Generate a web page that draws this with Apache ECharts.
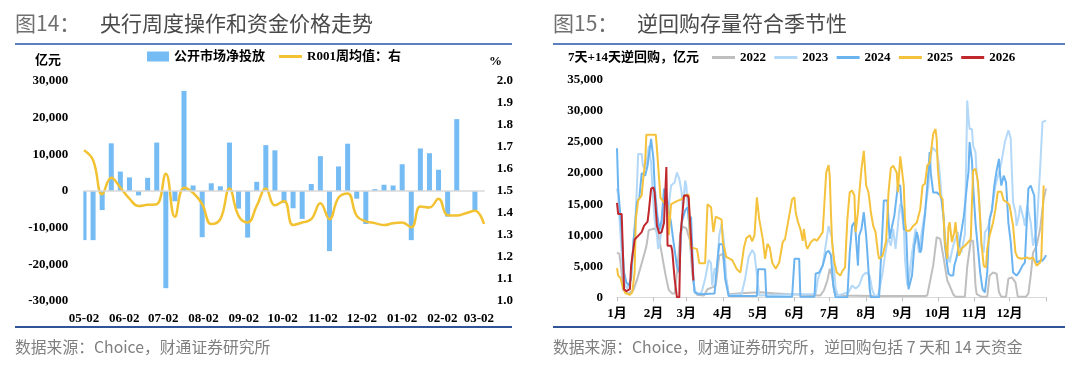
<!DOCTYPE html>
<html><head><meta charset="utf-8">
<script src="https://cdn.jsdelivr.net/npm/echarts@6/dist/echarts.min.js"></script>
<style>html,body{margin:0;padding:0;background:#fff}#c{width:1080px;height:380px}</style>
</head><body><div id="c"></div>
<script>
// ---------- Left chart data ----------
const weekDates = ['2025-05-02','2025-05-09','2025-05-16','2025-05-23','2025-05-30','2025-06-06','2025-06-13','2025-06-20','2025-06-27',
 '2025-07-04','2025-07-11','2025-07-18','2025-07-25','2025-08-01','2025-08-08','2025-08-15','2025-08-22','2025-08-29',
 '2025-09-05','2025-09-12','2025-09-19','2025-09-26','2025-10-03','2025-10-10','2025-10-17','2025-10-24','2025-10-31',
 '2025-11-07','2025-11-14','2025-11-21','2025-11-28','2025-12-05','2025-12-12','2025-12-19','2025-12-26',
 '2026-01-02','2026-01-09','2026-01-16','2026-01-23','2026-01-30','2026-02-06','2026-02-13','2026-02-20','2026-02-27','2026-03-06'];
const netInjection = [-13400,-13400,-5200,13000,5300,3700,-1200,3600,13200,-26500,-2800,27300,1500,-12600,2100,1300,13200,-4800,
 -12700,2500,12500,11100,-3300,-4700,-7600,1900,9500,-16400,6700,12900,-2100,-9000,500,1700,1500,7300,-13400,11600,10300,5800,
 -7000,19600,0,-5300,null];
const r001 = [1.685,1.640,1.485,1.560,1.515,1.465,1.432,1.437,1.440,1.578,1.383,1.515,1.492,1.440,1.350,1.372,1.511,1.387,
 1.357,1.432,1.511,1.435,1.455,1.345,1.357,1.372,1.444,1.372,1.470,1.489,1.387,1.362,1.354,1.345,1.353,1.357,1.335,1.429,
 1.425,1.465,1.390,1.389,1.399,1.410,1.350];
const leftXLabels = ['05-02','06-02','07-02','08-02','09-02','10-02','11-02','12-02','01-02','02-02','03-02'];

// ---------- Right chart data (day of year, 亿元) ----------
const monthStarts = [0,31,59,90,120,151,181,212,243,273,304,334];
const monthLabels = ['1月','2月','3月','4月','5月','6月','7月','8月','9月','10月','11月','12月'];
const rr2022 = [[0,7200],[2,7000],[4,3900],[5,1200],[10,600],[14,1200],[17,2800],[21,5500],[25,8200],[27,10800],[32,11100],[35,10300],[37,8200],[41,3900],[44,1200],[47,600],[49,600],[51,3900],[54,10300],[56,11400],[59,11100],[62,9200],[64,3900],[66,1200],[68,400],[74,300],[77,1300],[81,1600],[84,1900],[87,6700],[90,7000],[92,4000],[95,500],[105,650],[122,800],[133,650],[147,500],[159,400],[173,300],[176,1100],[179,2700],[181,4600],[183,3500],[185,800],[188,300],[220,200],[262,200],[264,300],[265,1300],[269,5100],[272,9700],[275,9400],[278,6200],[281,2700],[283,1900],[286,500],[288,100],[296,100],[298,5000],[301,9100],[303,9100],[305,1900],[306,500],[310,100],[315,100],[317,3500],[320,4000],[323,3800],[325,800],[327,100],[331,100],[333,3000],[336,3200],[339,2400],[341,100],[348,100],[350,600],[352,3500],[354,7200],[357,8300],[360,11000],[363,15800],[365,17500]];
const rr2023 = [[0,17500],[1,16500],[3,9900],[5,4000],[7,1900],[9,1400],[12,3000],[14,8900],[16,13700],[17,18000],[18,23100],[21,23100],[22,21200],[24,20700],[26,22800],[27,24400],[29,21700],[30,18000],[32,12600],[34,9900],[35,7800],[36,8300],[38,11000],[39,14200],[41,16400],[43,13000],[46,18000],[49,18500],[51,20100],[52,20400],[53,19100],[55,16900],[56,14200],[58,18800],[59,18000],[60,14800],[62,12600],[63,7200],[65,3000],[66,1100],[69,500],[72,800],[75,3000],[76,4000],[78,6000],[80,5500],[81,1900],[83,4600],[85,4500],[87,10000],[89,11800],[91,9000],[93,3000],[95,300],[106,500],[109,3000],[112,6500],[115,7600],[117,7000],[120,2000],[121,300],[150,500],[169,500],[171,3000],[175,5100],[178,8900],[180,11500],[181,11800],[183,9500],[184,6200],[186,1500],[188,300],[197,800],[200,1900],[203,1400],[206,1900],[209,3500],[212,4000],[215,3500],[217,1300],[219,300],[222,300],[224,1900],[226,4000],[228,6700],[230,8900],[231,9400],[233,8300],[235,11000],[237,7800],[239,11500],[240,13700],[241,15000],[244,11500],[245,6200],[247,1900],[248,2400],[251,7200],[252,8300],[254,11000],[257,7200],[259,10200],[262,13700],[265,18000],[266,20700],[268,24200],[269,24400],[272,23400],[274,21200],[275,19100],[276,16400],[278,12600],[279,9900],[281,7200],[283,5600],[286,8300],[288,9400],[290,10500],[291,9000],[293,7200],[296,10200],[298,31700],[299,29000],[300,27100],[302,27100],[303,24400],[305,23400],[306,20100],[308,16400],[309,12600],[310,8300],[312,7200],[313,10500],[315,11000],[316,11500],[319,14200],[322,18000],[325,20100],[327,21700],[330,25000],[333,26900],[335,25600],[336,20100],[337,15300],[339,13700],[340,11500],[342,13200],[343,14800],[346,12600],[347,11500],[349,14800],[352,12100],[354,8300],[357,11000],[360,20700],[362,28200],[365,28500]];
const rr2024 = [[0,24000],[1,17500],[4,10500],[6,4000],[8,2400],[10,1900],[12,3000],[14,8900],[17,15300],[19,16000],[21,20000],[24,19600],[26,21200],[29,25500],[31,22300],[32,18000],[34,13700],[36,10800],[38,12500],[40,17500],[42,16500],[44,14000],[46,12000],[48,9000],[51,5000],[53,4000],[55,12000],[58,14000],[60,14500],[62,10500],[63,13000],[65,3000],[66,800],[70,500],[83,600],[85,5000],[87,8600],[90,8500],[92,3000],[95,200],[119,200],[120,4500],[126,4500],[127,100],[149,100],[151,6200],[155,6200],[156,100],[168,100],[169,3800],[172,4000],[175,5100],[178,7200],[180,7500],[182,6800],[184,1900],[186,0],[196,0],[198,7200],[200,11500],[202,12100],[203,10500],[205,5100],[206,9900],[208,11000],[210,13700],[212,9900],[213,7200],[215,1300],[216,0],[223,0],[224,4000],[226,11500],[227,15600],[230,15600],[232,9400],[233,10500],[236,13200],[238,16400],[239,18000],[241,18000],[242,15000],[243,14200],[244,11000],[246,10800],[247,5600],[248,1300],[251,3500],[253,8300],[255,10500],[256,9800],[258,7200],[259,7700],[261,11500],[262,13200],[264,18000],[265,20400],[266,23400],[267,20000],[269,16900],[272,16900],[275,16400],[276,15800],[278,12600],[279,8300],[281,5100],[282,3800],[284,3500],[286,3500],[287,5100],[289,6500],[292,9400],[295,12900],[298,18500],[299,20100],[300,25000],[302,22000],[303,18000],[305,12000],[309,4000],[311,1300],[313,800],[315,4000],[317,12600],[319,14000],[321,18000],[323,20400],[325,22300],[326,19600],[327,18000],[329,19600],[331,18500],[332,15300],[333,12000],[335,8900],[337,4000],[340,3500],[342,4000],[345,5100],[347,5600],[350,17500],[352,18000],[354,16900],[355,16400],[356,11000],[357,5600],[360,5900],[362,5900],[364,6400],[365,6800]];
const rr2025 = [[0,4700],[1,3500],[3,3100],[5,1600],[7,700],[11,400],[13,800],[15,4000],[16,12600],[18,15600],[21,16400],[22,18500],[24,22000],[25,26200],[33,26200],[34,23900],[37,16000],[41,15000],[43,14800],[44,10000],[46,15000],[51,15500],[55,15800],[59,16500],[61,16500],[62,10000],[63,8000],[68,7800],[70,5500],[75,5500],[77,15000],[80,14500],[82,10500],[84,13000],[89,12500],[90,9000],[93,6500],[98,6000],[102,4500],[105,4000],[108,8000],[110,9500],[113,10000],[115,9000],[117,10000],[119,16100],[121,12600],[124,9400],[126,6200],[128,8600],[130,8000],[132,5600],[135,4600],[138,5600],[141,8900],[143,9400],[146,12600],[149,15800],[151,16100],[152,13700],[154,12100],[156,11000],[158,9100],[159,11000],[161,8300],[162,7800],[165,8900],[168,9400],[170,9100],[173,9900],[175,10500],[176,13700],[178,20100],[180,21300],[181,19600],[182,13700],[183,8900],[185,5600],[187,4000],[190,3500],[192,4300],[194,4800],[196,12600],[198,16900],[200,17200],[202,16400],[203,10500],[205,13700],[206,16400],[208,20700],[210,23600],[211,23400],[212,18000],[214,16900],[216,13700],[218,11500],[220,10500],[222,7200],[223,6200],[226,6700],[229,9100],[231,16900],[233,20800],[235,21200],[238,20100],[239,16900],[241,22700],[242,22700],[244,18000],[245,12600],[246,10700],[249,10700],[252,11500],[255,12000],[258,14200],[260,18000],[262,18300],[264,21200],[266,21700],[268,24700],[269,26300],[271,27100],[272,25500],[273,20700],[275,16400],[277,15800],[279,8900],[281,6200],[282,11300],[283,12100],[285,8900],[287,10500],[288,12100],[290,8300],[291,6700],[293,7800],[296,8300],[299,8900],[301,9400],[302,15300],[303,20400],[305,20700],[307,18800],[309,12600],[310,8900],[312,5100],[314,4800],[315,7800],[317,9900],[320,12100],[322,14200],[324,17000],[327,17000],[329,15600],[332,15300],[334,14800],[337,11500],[339,7200],[341,6400],[344,6200],[349,6400],[351,6200],[354,6400],[357,5100],[360,5600],[361,6200],[363,18000]];
const rr2026 = [[0,15200],[1,13400],[4,13400],[6,1300],[8,1000],[11,1300],[12,5100],[15,9300],[18,9900],[21,10500],[23,11500],[26,12200],[27,13700],[29,17500],[31,17700],[32,16900],[34,11500],[35,10900],[36,10300],[38,10500],[40,12000],[42,21000],[43,8300],[46,8300],[47,7500],[49,3000],[51,0],[53,0],[54,9900],[57,16400],[60,16400],[61,16000],[65,2700]];
const yearNames = ['2022','2023','2024','2025','2026'];
const yearSeries = [rr2022, rr2023, rr2024, rr2025, rr2026];
const yearColors = ['#bfbfbf','#b3d8f8','#6cb4f0','#f4c23c','#c0282d'];

// ---------- build axes ----------
const DAY = 86400000;
const t0 = Date.parse(weekDates[0] + 'T00:00:00Z');
const t1 = Date.parse(weekDates[weekDates.length - 1] + 'T00:00:00Z');
const dayCats = [];
for (let t = t0; t <= t1; t += DAY) dayCats.push(new Date(t).toISOString().slice(0, 10));
const rightCats = Array.from({length: 366}, (_, i) => String(i));

const serif = "'Liberation Serif','Times New Roman','Noto Sans CJK SC',serif";
const cjk = "'Noto Sans CJK SC',sans-serif";
const axisFont = {fontFamily: serif, fontWeight: 'bold', fontSize: 13, color: '#000'};
const legendText = {fontFamily: serif, fontWeight: 'bold', fontSize: 13, color: '#000'};
const fmtK = v => v.toLocaleString('en-US');

const chart = echarts.init(document.getElementById('c'), null, {renderer: 'canvas'});
chart.setOption({
  animation: false,
  backgroundColor: '#fff',
  grid: [
    {left: 83.35, right: 595.35, top: 81, bottom: 79},
    {left: 617, right: 34, top: 80, bottom: 82.7}
  ],
  legend: [
    {left: 147, top: 50, padding: 0, itemWidth: 22, itemHeight: 10, icon: 'rect',
     data: ['公开市场净投放'], textStyle: legendText},
    {left: 279, top: 50, padding: 0, itemWidth: 23, itemHeight: 3, icon: 'rect',
     data: ['R001周均值：右'], textStyle: legendText},
    {left: 712, top: 51, padding: 0, itemWidth: 23, itemHeight: 3, itemGap: 8.3, icon: 'rect',
     data: yearNames, textStyle: legendText}
  ],
  xAxis: [
    {type: 'category', gridIndex: 0, data: dayCats, boundaryGap: true,
     axisLine: {show: false}, axisTick: {show: false}, splitLine: {show: false},
     axisLabel: Object.assign({margin: 11,
       interval: (i, v) => leftXLabels.includes(v.slice(5)),
       formatter: v => v.slice(5)}, axisFont)},
    {type: 'category', gridIndex: 1, data: rightCats, boundaryGap: false,
     axisLine: {show: true, lineStyle: {color: '#d9d9d9', width: 1}},
     axisTick: {show: true, length: 4, lineStyle: {color: '#bfbfbf'},
       interval: i => monthStarts.includes(i) || i === 365},
     splitLine: {show: false},
     axisLabel: Object.assign({margin: 10,
       interval: i => monthStarts.includes(i),
       formatter: (v, i) => monthLabels[monthStarts.indexOf(i)]}, axisFont)}
  ],
  yAxis: [
    {type: 'value', gridIndex: 0, min: -30000, max: 30000, interval: 10000,
     axisLine: {show: false}, axisTick: {show: false}, splitLine: {show: false},
     axisLabel: Object.assign({margin: 15, formatter: fmtK}, axisFont)},
    {type: 'value', gridIndex: 0, position: 'right', min: 1.0, max: 2.0, interval: 0.1,
     axisLine: {show: false}, axisTick: {show: false}, splitLine: {show: false},
     axisLabel: Object.assign({margin: 12, formatter: v => v.toFixed(1)}, axisFont)},
    {type: 'value', gridIndex: 1, min: 0, max: 35000, interval: 5000,
     axisLine: {show: false}, axisTick: {show: false}, splitLine: {show: false},
     axisLabel: Object.assign({margin: 14, formatter: fmtK}, axisFont)}
  ],
  series: [
    {name: '公开市场净投放', type: 'bar', xAxisIndex: 0, yAxisIndex: 0, barWidth: 5,
     itemStyle: {color: '#75bbf4'},
     data: weekDates.map((d, i) => [d, netInjection[i]]),
     markLine: {silent: true, symbol: 'none', label: {show: false},
       lineStyle: {color: '#d9d9d9', width: 1.5, type: 'solid'}, data: [{yAxis: 0}]}},
    {name: 'R001周均值：右', type: 'line', xAxisIndex: 0, yAxisIndex: 1, smooth: 0.45,
     symbol: 'none', lineStyle: {color: '#f2c233', width: 2.5}, itemStyle: {color: '#f2c233'},
     data: weekDates.map((d, i) => [d, r001[i]])}
  ].concat(yearNames.map((n, k) => ({
    name: n, type: 'line', xAxisIndex: 1, yAxisIndex: 2, symbol: 'none',
    lineStyle: {color: yearColors[k], width: 2}, itemStyle: {color: yearColors[k]},
    data: yearSeries[k]
  }))),
  graphic: [
    {type: 'text', x: 15, y: 23, style: {text: '图14：', font: '21px ' + cjk, fill: '#6f6f6f', verticalAlign: 'middle'}},
    {type: 'text', x: 100, y: 23, style: {text: '央行周度操作和资金价格走势', font: '21px ' + cjk, fill: '#4a4a4a', verticalAlign: 'middle'}},
    {type: 'text', x: 553, y: 23, style: {text: '图15：', font: '21px ' + cjk, fill: '#6f6f6f', verticalAlign: 'middle'}},
    {type: 'text', x: 637, y: 23, style: {text: '逆回购存量符合季节性', font: '21px ' + cjk, fill: '#4a4a4a', verticalAlign: 'middle'}},
    {type: 'line', shape: {x1: 15, y1: 44, x2: 512, y2: 44}, style: {stroke: '#5b7fc0', lineWidth: 2}},
    {type: 'line', shape: {x1: 553, y1: 44, x2: 1065, y2: 44}, style: {stroke: '#5b7fc0', lineWidth: 2}},
    {type: 'line', shape: {x1: 15, y1: 327, x2: 512, y2: 327}, style: {stroke: '#2f5597', lineWidth: 2}},
    {type: 'line', shape: {x1: 553, y1: 327, x2: 1065, y2: 327}, style: {stroke: '#2f5597', lineWidth: 2}},
    {type: 'text', x: 35, y: 61, style: {text: '亿元', font: 'bold 13px ' + serif, fill: '#000', verticalAlign: 'middle'}},
    {type: 'text', x: 489, y: 62, style: {text: '%', font: 'bold 13px ' + serif, fill: '#000', verticalAlign: 'middle'}},
    {type: 'text', x: 568, y: 58, style: {text: '7天+14天逆回购，亿元', font: 'bold 13px ' + serif, fill: '#000', verticalAlign: 'middle'}},
    {type: 'text', x: 15, y: 347, style: {text: '数据来源：Choice，财通证券研究所', font: '15.8px ' + cjk, fill: '#7f7f7f', verticalAlign: 'middle'}},
    {type: 'text', x: 553, y: 347, style: {text: '数据来源：Choice，财通证券研究所，逆回购包括 7 天和 14 天资金', font: '15.8px ' + cjk, fill: '#7f7f7f', verticalAlign: 'middle'}}
  ]
});
</script></body></html>
